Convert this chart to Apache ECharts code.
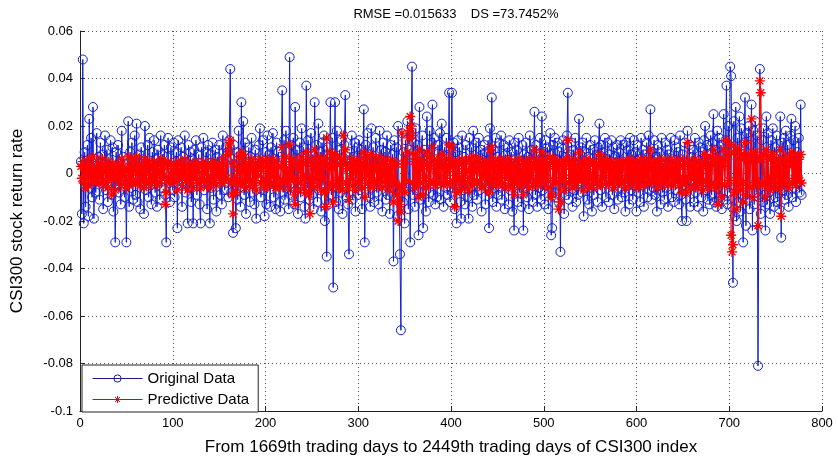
<!DOCTYPE html>
<html>
<head>
<meta charset="utf-8">
<script src="https://cdn.jsdelivr.net/npm/echarts@6/dist/echarts.min.js"></script>
<style>
html, body { margin: 0; padding: 0; background: #fff; }
#main { width: 838px; height: 461px; }
</style>
</head>
<body>
<div id="main"></div>
<script>
const log = console.log.bind(console)
const e = sel => document.querySelector(sel)

// returns are stored in units of 0.001, one value per trading day (x = 1, 2, ...)
const original = [
    5,-17,48,-21,9,-14,3,12,-18,23,-6,15,-10,28,-19,4,-8,17,-3,7,
    -11,13,-4,8,-15,2,16,-7,10,-12,6,-2,14,-9,11,-16,3,-29,9,-5,
    12,-8,5,-13,18,-3,7,-10,1,-29,6,22,-14,9,-6,13,-11,4,16,-9,
    21,-12,3,8,-15,11,-4,6,-17,20,-7,2,12,-10,15,-5,-13,9,-2,14,
    -8,6,-14,10,3,-11,16,-6,8,-3,12,-9,-29,7,15,-4,-12,11,2,-7,
    13,-10,5,9,-23,14,-5,1,11,-14,7,-2,16,-8,4,-21,12,-6,9,-12,
    6,-21,10,-3,14,-9,2,8,-13,-21,11,-4,15,-7,3,9,-15,12,-5,-21,
    8,-6,13,-11,4,10,-16,7,-2,12,-9,5,-13,16,1,-7,11,-4,9,-10,
    14,44,-8,6,-25,12,-3,-23,9,-11,18,2,-14,30,-6,22,-9,13,-17,5,
    -4,11,-12,7,15,-8,3,-13,10,-19,6,-2,12,19,-10,4,14,-7,-18,9,
    -13,16,-5,8,-14,11,-2,17,-10,6,-15,13,-4,9,-12,-16,7,35,-8,14,
    -11,18,-6,3,-15,49,-9,12,-4,15,-13,28,-7,10,-17,6,13,-10,19,-3,
    11,-14,-19,37,-6,14,-11,5,17,-9,8,-15,30,-4,12,-12,21,-7,9,-16,
    13,-5,16,-20,8,-35,11,-13,4,30,-9,15,-48,7,30,-12,18,-6,-15,10,
    -8,14,-17,6,12,33,-10,5,-13,-34,9,-4,16,-11,7,13,-16,3,11,-9,
    14,-7,10,-15,5,27,-29,12,-3,17,-10,8,-14,19,-6,11,-12,4,15,-8,
    6,-13,18,-5,10,-16,13,-2,9,-11,16,-9,4,-17,12,-6,8,-37,14,-10,
    11,-18,20,-8,-34,-66,17,-12,9,-21,14,-6,22,-15,10,-29,16,45,-9,13,
    -14,19,-7,12,-26,28,-11,8,16,-23,10,-5,-16,24,7,-12,18,-8,13,29,
    -9,15,-13,6,-10,12,-4,17,-11,21,8,-14,11,-6,15,-9,5,34,-12,10,
    34,-8,13,-15,9,-21,14,-5,11,-12,-19,16,-7,7,-13,12,3,-10,-19,15,
    -6,11,-14,18,-9,6,13,-11,4,15,-7,10,-16,8,-3,12,-13,9,-5,14,
    -23,19,-8,32,-12,10,-4,15,-14,7,-9,13,-6,16,-11,5,12,-15,8,-3,
    11,-13,14,-7,9,-16,6,-24,13,-5,10,-12,15,-8,4,-14,12,-24,8,-6,
    13,-10,7,-15,16,-4,10,-12,5,26,-9,12,-14,8,-6,15,-11,24,-7,9,
    -13,14,-5,11,-15,8,17,-26,-23,12,-8,15,-10,6,13,-12,9,-33,11,-6,
    14,-17,7,-9,16,34,-11,8,-5,13,-14,10,-7,15,-12,6,-9,23,-4,11,
    -8,13,-18,9,-6,15,-11,7,-13,12,-4,-16,10,-9,14,-5,8,-12,11,21,
    -7,12,-14,9,-3,15,-10,6,13,-12,8,-5,14,-9,11,-15,7,-4,12,-11,
    9,-6,14,-10,5,12,-8,-16,13,-4,10,-13,15,-7,8,-11,14,-5,9,-16,
    12,-8,6,-12,15,-5,10,-14,8,-3,13,-10,16,-7,27,-11,9,-6,14,-9,
    7,-16,12,-5,9,-13,15,-8,4,-11,13,-6,10,-14,8,-3,15,-10,6,-12,
    14,-7,11,-4,9,-13,16,-9,-20,8,-5,13,-11,-20,18,-6,12,-14,7,-3,
    10,-12,15,-8,6,-14,13,-5,11,-10,9,-16,14,20,-7,12,-11,8,-13,16,
    -9,13,25,-12,10,-14,18,-6,15,-10,12,-15,8,25,-11,14,37,-13,20,-8,
    45,41,-14,-46,22,-18,28,-20,15,-12,24,-16,19,-9,-29,13,32,-22,17,-11,
    20,-15,12,29,-24,18,-13,22,-8,16,-81,-10,44,-17,14,-12,19,-9,-24,24,
    -13,17,-8,-17,14,-6,19,-14,11,-10,16,-12,8,-15,24,-27,13,-7,15,-11,
    18,-9,12,-14,7,16,23,-10,14,-6,20,-12,9,-4,15,-8,29,-9,
]

const predictive = [
    3,-2,5,-4,2,-6,4,1,-5,6,-1,3,-3,7,-4,1,-2,5,-3,2,
    -4,3,-1,6,-5,2,4,-3,1,-6,5,-2,3,-9,4,-1,2,-7,3,-2,
    4,-3,2,-5,6,-1,3,-4,1,-6,2,7,-5,3,-2,5,-4,1,6,-3,
    7,-4,1,3,-5,4,-2,2,-6,6,-3,1,4,-4,5,-2,-5,3,-1,5,
    -3,2,-5,4,1,-4,6,-2,3,-1,5,-13,-8,3,5,-2,-4,4,1,-3,
    4,-3,2,3,-7,5,-2,0,4,-5,3,-1,6,-3,2,-7,4,-2,3,-4,
    2,-6,4,-1,5,-3,1,3,-4,-6,4,-2,5,-3,1,3,-5,4,-2,-6,
    3,-2,5,-4,2,4,-5,3,-1,4,-3,2,-4,6,0,-3,4,-2,8,10,
    12,14,-4,-9,-17,5,-2,-8,3,-4,7,1,-5,9,-3,8,-4,5,-6,2,
    -2,4,-5,3,6,-3,1,-5,4,-7,2,-1,5,6,-4,2,5,-3,-6,3,
    -5,6,-2,3,-5,4,-1,6,-4,2,-6,5,-2,3,-5,-6,3,11,-3,5,
    -4,7,-2,1,-6,12,-3,5,-2,6,-9,-13,4,-3,-7,2,5,-4,7,-1,
    4,-6,-8,9,-2,5,-9,-17,6,-4,3,-6,10,-2,5,-5,7,-3,4,-7,
    5,-2,6,-8,-14,15,4,-6,2,9,-4,6,-12,3,8,-5,7,-3,-6,4,
    -3,6,-7,16,5,10,-4,2,-6,-11,4,-2,6,-5,3,5,-7,1,4,-4,
    6,-3,4,-6,2,9,-10,5,-1,7,-4,3,-6,8,-3,4,-5,2,6,-3,
    2,-5,7,-2,4,-6,5,-1,3,-4,6,-4,2,-7,5,-3,3,-12,5,-4,
    4,-9,-20,-5,-13,-16,17,-6,4,-8,6,-3,9,15,18,24,20,16,-4,5,
    -6,8,-3,5,-10,10,-4,3,6,-9,4,-2,-6,9,3,-5,7,-3,5,11,
    -4,6,-5,2,-4,5,-1,6,-4,8,3,-5,4,-2,6,-4,2,12,-5,4,
    11,-3,5,-14,3,-8,5,-2,4,-5,-7,6,-3,2,-5,5,1,-4,-7,6,
    -2,4,-5,7,-3,2,5,-4,1,6,-3,4,-6,3,-1,5,-5,3,-2,5,
    -8,10,-3,11,-5,4,-2,6,-5,3,-4,5,-2,6,-4,2,5,-6,3,-1,
    4,-5,6,-3,3,-6,2,-9,5,-2,4,-5,6,-3,1,-5,5,-9,3,-2,
    5,-4,3,-6,6,-1,4,-5,2,10,-3,5,-5,3,-2,6,-4,9,-3,4,
    -5,6,-2,4,-6,3,7,-10,-9,5,-3,6,-4,2,5,-15,4,-12,4,-2,
    5,-7,3,-4,6,14,-4,3,-2,5,-6,4,-3,6,-5,2,-3,9,-1,4,
    -3,5,-7,4,-2,6,-4,3,-5,5,-1,-6,4,-3,5,-2,3,-5,4,8,
    -3,5,-5,4,-1,6,-4,2,5,-5,3,-2,5,-4,4,-6,3,-1,5,-4,
    4,-2,5,-4,2,5,-3,-6,5,-1,4,-5,6,-3,3,-4,5,-2,4,-6,
    5,-3,2,-5,6,-2,4,-5,3,-1,5,-4,6,-3,10,-4,4,-2,5,-3,
    3,-6,5,-2,4,-5,6,-3,1,-4,5,-2,4,-5,3,-1,6,-4,2,-5,
    5,-3,4,-1,3,-5,6,-4,-8,3,-2,5,-4,-8,13,-2,5,-6,3,-1,
    4,-5,6,-3,2,-6,5,-2,4,-4,3,-7,5,8,-3,5,-4,3,-6,7,
    -4,5,10,-5,4,-6,7,-13,6,-4,5,-10,3,10,-5,6,14,-5,8,-3,
    12,-26,-33,-30,9,-8,11,-15,6,-5,10,-7,8,-4,-12,6,13,-9,7,-5,
    8,-6,5,23,-10,7,-5,9,-3,6,-22,-4,39,34,6,-5,8,-4,-10,10,
    -5,7,-3,-7,6,-2,8,-6,4,-4,6,-5,3,-6,10,-18,5,-3,6,-4,
    7,-4,5,-6,3,6,9,-4,6,-2,8,-5,4,-1,6,-3,8,-4,
]

const xTicks = [0, 800, 100]
const yTicks = [-0.1, 0.06, 0.02]

const titleText = 'RMSE =0.015633    DS =73.7452%'
const xName = 'From 1669th trading days to 2449th trading days of CSI300 index'
const yName = 'CSI300 stock return rate'

const blue = '#1020d0'
const red = '#ff0000'
const font = 'Liberation Sans, Arial, sans-serif'
const star = 'path://M0,5L10,5M5,0L5,10M1.5,1.5L8.5,8.5M8.5,1.5L1.5,8.5'

const toPoints = arr => arr.map((v, i) => [i + 1, v / 1000])

const gridLine = {
    show: true,
    lineStyle: { color: '#555', width: 1, type: [1, 3] },
}

const __main = () => {
    let chart = echarts.init(e('#main'), null, { renderer: 'canvas' })
    let option = {
        backgroundColor: '#fff',
        animation: false,
        title: {
            text: titleText,
            left: 451,
            textAlign: 'center',
            top: 3,
            textStyle: { fontFamily: font, fontSize: 13, fontWeight: 'normal', color: '#000' },
        },
        legend: {
            orient: 'vertical',
            left: 82,
            top: 365,
            padding: [5, 9, 4, 10],
            itemWidth: 50,
            itemHeight: 9,
            itemGap: 4,
            backgroundColor: '#fff',
            borderColor: '#222',
            borderWidth: 1,
            borderRadius: 0,
            lineStyle: { width: 1 },
            textStyle: { fontFamily: font, fontSize: 15, color: '#000', lineHeight: 17 },
            data: [
                { name: 'Original Data', itemStyle: { color: 'rgba(0,0,0,0)', borderColor: '#1a1a90', borderWidth: 1 }, lineStyle: { color: '#1a1a90', width: 1 } },
                { name: 'Predictive Data', itemStyle: { color: 'rgba(0,0,0,0)', borderColor: '#d01010', borderWidth: 1 }, lineStyle: { color: '#c01010', width: 1 } },
            ],
        },
        grid: { left: 80, right: 16, top: 31, bottom: 50 },
        xAxis: {
            type: 'value',
            min: xTicks[0],
            max: xTicks[1],
            interval: xTicks[2],
            name: xName,
            nameLocation: 'middle',
            nameGap: 28,
            nameTextStyle: { fontFamily: font, fontSize: 17, color: '#000' },
            axisLine: { show: true, onZero: false, lineStyle: { color: '#222', width: 1 } },
            axisTick: { show: true, inside: true, length: 5, lineStyle: { color: '#222' } },
            axisLabel: { fontFamily: font, fontSize: 13, color: '#000', margin: 6, showMinLabel: true, showMaxLabel: true },
            splitLine: gridLine,
        },
        yAxis: {
            type: 'value',
            min: yTicks[0],
            max: yTicks[1],
            interval: yTicks[2],
            name: yName,
            nameLocation: 'middle',
            nameGap: 54,
            nameTextStyle: { fontFamily: font, fontSize: 17, color: '#000' },
            axisLine: { show: true, onZero: false, lineStyle: { color: '#222', width: 1 } },
            axisTick: { show: true, inside: true, length: 5, lineStyle: { color: '#222' } },
            axisLabel: {
                fontFamily: font, fontSize: 13, color: '#000', margin: 7,
                formatter: v => {
                    let s = +v.toFixed(2)
                    return s === 0 ? '0' : String(s)
                },
            },
            splitLine: gridLine,
        },
        series: [
            {
                name: 'Original Data',
                type: 'line',
                data: toPoints(original),
                symbol: 'circle',
                symbolSize: 9,
                showSymbol: true,
                showAllSymbol: true,
                itemStyle: { color: 'rgba(0,0,0,0)', borderColor: blue, borderWidth: 1 },
                lineStyle: { color: blue, width: 1 },
                emphasis: { disabled: true },
                z: 2,
            },
            {
                name: 'Predictive Data',
                type: 'line',
                data: toPoints(predictive),
                symbol: star,
                symbolSize: 10,
                showSymbol: true,
                showAllSymbol: true,
                itemStyle: { color: 'rgba(0,0,0,0)', borderColor: red, borderWidth: 1.4 },
                lineStyle: { color: red, width: 1.2 },
                emphasis: { disabled: true },
                z: 3,
            },
        ],
    }
    chart.setOption(option)
}

__main()
</script>
</body>
</html>
